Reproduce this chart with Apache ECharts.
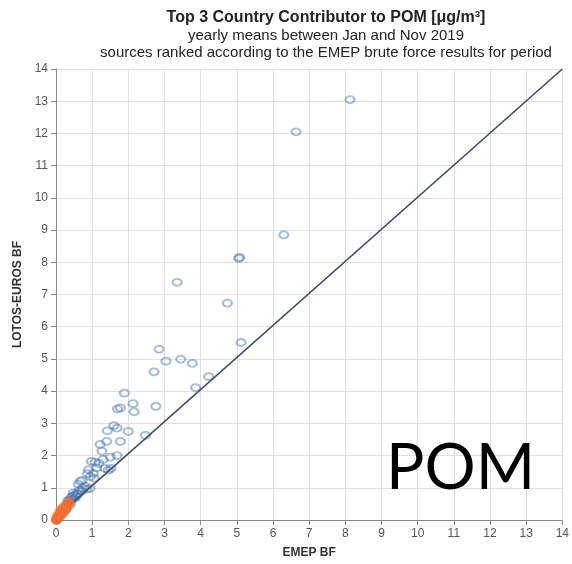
<!DOCTYPE html>
<html>
<head>
<meta charset="utf-8">
<script src="https://cdn.jsdelivr.net/npm/echarts@6/dist/echarts.min.js"></script>
<style>
html,body{margin:0;padding:0;background:#fff;}
#chart{width:572px;height:564px;}
</style>
</head>
<body>
<div id="chart"></div>
<script>
const titleText = "Top 3 Country Contributor to POM [μg/m³]";
const subtitleLines = ["yearly means between Jan and Nov 2019", "sources ranked according to the EMEP brute force results for period"];
const xAxisName = "EMEP BF";
const yAxisName = "LOTOS-EUROS BF";
const axisMin = 0, axisMax = 14, axisStep = 1;
const overlayLabel = "POM";

// Blue hollow markers: [EMEP BF, LOTOS-EUROS BF]
const bluePoints = [
  [8.13,13.05],[6.64,12.05],[6.30,8.85],[5.05,8.12],[5.08,8.15],[3.35,7.38],
  [4.74,6.73],[5.12,5.51],[2.85,5.30],[3.04,4.93],[3.45,4.99],[3.77,4.86],
  [2.71,4.60],[4.22,4.45],[3.86,4.11],[2.76,3.53],[2.47,2.63],
  [1.89,3.94],[2.13,3.61],[2.16,3.36],[1.70,3.45],[1.78,3.48],
  [1.42,2.77],[1.60,2.93],[1.69,2.85],[2.00,2.75],[1.78,2.44],[1.40,2.44],
  [1.22,2.35],[1.27,2.14],[1.69,2.00],[1.50,1.95],[1.30,1.88],
  [0.98,1.82],[1.08,1.80],[1.18,1.76],[0.90,1.56],[0.87,1.44],[1.03,1.45],
  [1.12,1.62],[1.35,1.60],[1.52,1.60],[1.45,1.55],[0.95,1.35],[1.05,1.30],
  [0.67,1.20],[0.72,1.23],[0.62,1.11],[0.85,0.96],[0.94,0.98],[0.80,1.05],
  [0.75,1.00],[0.65,0.93],[0.48,0.84],[0.58,0.82],[0.53,0.78],[0.42,0.70],
  [0.46,0.74],[0.50,0.66],[0.38,0.62],[0.35,0.55],[0.30,0.48],[0.28,0.42],
  [0.24,0.38],[0.20,0.32],[0.40,0.52],[0.55,0.72],[0.60,0.80],[0.70,0.90],
  [0.33,0.60],[0.25,0.30],[0.15,0.25]
];

// Orange filled markers: [EMEP BF, LOTOS-EUROS BF]
const orangePoints = [
  [0.00,0.00],[0.01,0.02],[0.02,0.01],[0.03,0.05],[0.04,0.03],[0.05,0.06],
  [0.06,0.09],[0.08,0.07],[0.09,0.12],[0.10,0.10],[0.12,0.16],[0.13,0.13],
  [0.15,0.20],[0.17,0.18],[0.18,0.24],[0.20,0.22],[0.22,0.30],[0.24,0.27],
  [0.26,0.35],[0.28,0.33],[0.30,0.42],[0.32,0.40],[0.35,0.52],[0.38,0.58],
  [0.10,0.28],[0.14,0.34],[0.07,0.18],[0.03,0.12],[0.30,0.36],[0.02,0.06],
  [0.05,0.02],[0.01,0.00],[0.00,0.03],[0.20,0.38],[0.40,0.48],[0.25,0.45]
];

// 1:1 reference line endpoints
const refLine = [[0.05,0.12],[14,14]];

const chart = echarts.init(document.getElementById('chart'), null, {renderer:'canvas'});
const font = 'Liberation Sans, Arial, sans-serif';
chart.setOption({
  backgroundColor:'#fff',
  animation:false,
  title:[{
    text:titleText,
    subtext:subtitleLines.join('\n'),
    left:321, top:5, textAlign:'center',
    textStyle:{fontFamily:font,fontSize:16,fontWeight:'bold',color:'#222'},
    subtextStyle:{fontFamily:font,fontSize:15,color:'#222',lineHeight:17},
    itemGap:1
  }],
  grid:{left:56,right:5,top:69,bottom:41},
  xAxis:{
    type:'value',min:axisMin,max:axisMax,interval:axisStep,
    name:xAxisName,nameLocation:'middle',nameGap:27,
    nameTextStyle:{fontFamily:font,fontSize:12,fontWeight:'bold',color:'#333'},
    axisLine:{show:true,onZero:false,lineStyle:{color:'#888',width:1}},
    axisTick:{show:true,length:5,lineStyle:{color:'#888'}},
    axisLabel:{fontFamily:font,fontSize:12,color:'#555',margin:8},
    splitLine:{show:true,lineStyle:{color:'#e0e0e0',width:1}}
  },
  yAxis:{
    type:'value',min:axisMin,max:axisMax,interval:axisStep,
    name:yAxisName,nameLocation:'middle',nameGap:32,nameRotate:90,
    nameTextStyle:{fontFamily:font,fontSize:12,fontWeight:'bold',color:'#333'},
    axisLine:{show:true,onZero:false,lineStyle:{color:'#888',width:1}},
    axisTick:{show:true,length:5,lineStyle:{color:'#888'}},
    axisLabel:{fontFamily:font,fontSize:12,color:'#555',margin:8},
    splitLine:{show:true,lineStyle:{color:'#e0e0e0',width:1}}
  },
  series:[
    {
      type:'scatter',data:bluePoints,symbol:'circle',symbolSize:[9,7],
      itemStyle:{color:'rgba(255,255,255,0)',borderColor:'rgba(70,115,172,0.6)',borderWidth:2},
      z:3
    },
    {
      type:'line',data:refLine,symbol:'none',
      lineStyle:{color:'#3d4c63',width:1.6},z:4
    },
    {
      type:'scatter',data:orangePoints,symbol:'circle',symbolSize:10,
      itemStyle:{color:'rgba(240,110,50,0.6)'},
      z:5
    }
  ],
  graphic:[{
    type:'text',left:386,top:436,
    style:{text:overlayLabel,font:'normal 64px Lato, "Open Sans", sans-serif',fill:'#000'},
    z:100
  }]
});
</script>
</body>
</html>
